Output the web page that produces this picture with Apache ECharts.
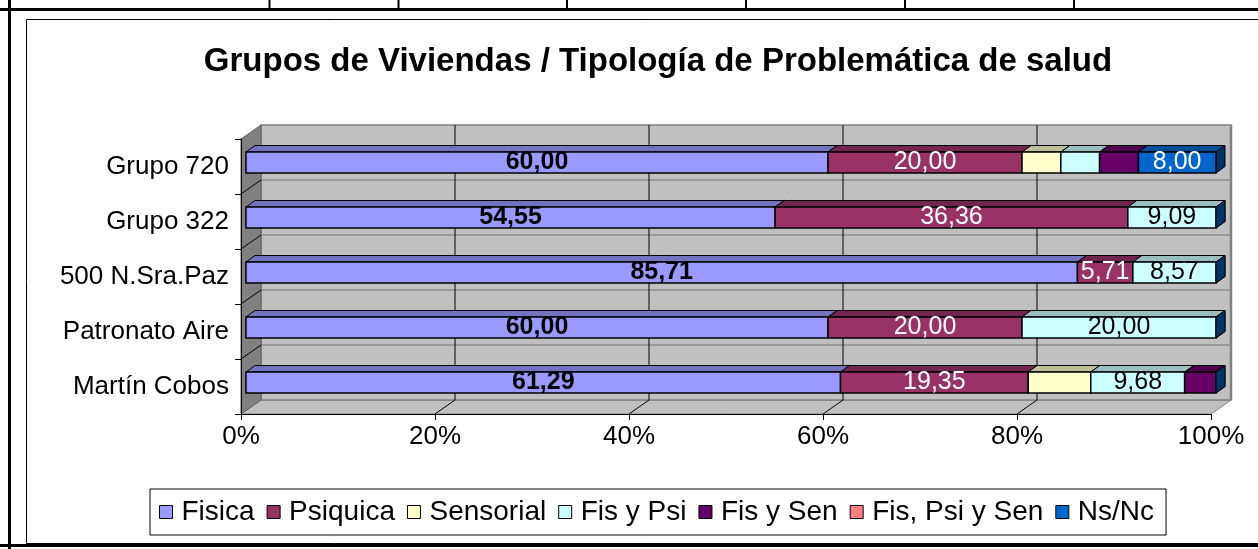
<!DOCTYPE html>
<html><head><meta charset="utf-8">
<script src="https://cdn.jsdelivr.net/npm/echarts@6/dist/echarts.min.js"></script>
<style>html,body{margin:0;padding:0;background:#fff}#c{width:1258px;height:549px}</style>
</head><body><div id="c"></div>
<script>
const categories = ['Martín Cobos', 'Patronato Aire', '500 N.Sra.Paz', 'Grupo 322', 'Grupo 720'];
const seriesNames = ['Fisica', 'Psiquica', 'Sensorial', 'Fis y Psi', 'Fis y Sen', 'Fis, Psi y Sen', 'Ns/Nc'];
const fisica    = [61.29, 60.00, 85.71, 54.55, 60.00];
const psiquica  = [19.35, 20.00,  5.71, 36.36, 20.00];
const sensorial = [ 6.45,  0,     0,     0,     4.00];
const fisYPsi   = [ 9.68, 20.00,  8.57,  9.09,  4.00];
const fisYSen   = [ 3.23,  0,     0,     0,     4.00];
const fisPsiSen = [ 0,     0,     0,     0,     0];
const nsNc      = [ 0,     0,     0,     0,     8.00];
const xTicks = [0, 20, 40, 60, 80, 100];
const title = 'Grupos de Viviendas / Tipología de Problemática de salud';

const values = [fisica, psiquica, sensorial, fisYPsi, fisYSen, fisPsiSen, nsNc];
const colors = ['#9999FF', '#993366', '#FFFFCC', '#CCFFFF', '#660066', '#FF8080', '#0066CC'];
const showLabel = [true, true, false, true, false, false, true];
const labelColor = ['#000', '#fff', '#000', '#000', '#fff', '#000', '#fff'];
const labelWeight = ['bold', 'normal', 'normal', 'normal', 'normal', 'normal', 'normal'];
const MIN_LABEL = 5;
const FONT = '"Liberation Sans", Arial, sans-serif';

function shade(hex, f) {
  const n = parseInt(hex.slice(1), 16);
  const r = Math.round(((n >> 16) & 255) * f), g = Math.round(((n >> 8) & 255) * f), b = Math.round((n & 255) * f);
  return 'rgb(' + r + ',' + g + ',' + b + ')';
}

// 100% stacking
const totals = categories.map((c, j) => values.reduce((s, arr) => s + arr[j], 0));
const stacked = values.map(() => []);
categories.forEach((c, j) => {
  let cum = 0;
  values.forEach((arr, i) => {
    const s = cum / totals[j] * 100;
    cum += arr[j];
    const e = cum / totals[j] * 100;
    stacked[i].push([j, s, e, arr[j]]);
  });
});

const WD = [20, -14];          // wall depth
const BF = [5, -4];            // bar front offset
const BD = [9, -6.5];          // bar depth
const BH = 21;                 // bar height

function wallRender(params, api) {
  const cs = params.coordSys;
  const x = cs.x, y = cs.y, w = cs.width, h = cs.height;
  const dx = WD[0], dy = WD[1];
  const ch = [];
  ch.push({ type: 'polygon', shape: { points: [[x, y + h], [x + dx, y + h + dy], [x + w + dx, y + h + dy], [x + w, y + h]] },
    style: { fill: '#C0C0C0', stroke: '#808080', lineWidth: 1 } });
  ch.push({ type: 'rect', shape: { x: x + dx, y: y + dy, width: w, height: h },
    style: { fill: '#C0C0C0', stroke: '#808080', lineWidth: 1.5 } });
  ch.push({ type: 'polygon', shape: { points: [[x, y], [x + dx, y + dy], [x + dx, y + h + dy], [x, y + h]] },
    style: { fill: '#808080', stroke: '#606060', lineWidth: 1 } });
  const band = h / categories.length;
  for (let k = 1; k < categories.length; k++) {
    const yy = y + k * band;
    ch.push({ type: 'line', shape: { x1: x + dx, y1: yy + dy, x2: x + w + dx, y2: yy + dy }, style: { stroke: '#707070', lineWidth: 1 } });
    ch.push({ type: 'line', shape: { x1: x, y1: yy, x2: x + dx, y2: yy + dy }, style: { stroke: '#000', lineWidth: 1 } });
  }
  xTicks.forEach(t => {
    if (t === 0 || t === 100) return;
    const p = api.coord([t, 0]);
    const xx = p[0];
    ch.push({ type: 'line', shape: { x1: xx + dx, y1: y + dy, x2: xx + dx, y2: y + h + dy }, style: { stroke: '#000', lineWidth: 1 } });
    ch.push({ type: 'line', shape: { x1: xx, y1: y + h, x2: xx + dx, y2: y + h + dy }, style: { stroke: '#000', lineWidth: 1 } });
  });
  ch.push({ type: 'line', shape: { x1: x + w + dx, y1: y + dy, x2: x + w + dx, y2: y + h + dy }, style: { stroke: '#808080', lineWidth: 2.5 } });
  return { type: 'group', children: ch };
}

function barRender(si) {
  return function (params, api) {
    const cat = api.value(0), s = api.value(1), e = api.value(2), v = api.value(3);
    const last = si === seriesNames.length - 1;
    if (v <= 0 && !last) return { type: 'group', children: [] };
    const a = api.coord([s, cat]), b = api.coord([e, cat]);
    const x0 = a[0] + BF[0], x1 = b[0] + BF[0], yc = a[1] + BF[1];
    const t = yc - BH / 2, bt = yc + BH / 2;
    const col = colors[si];
    const ch = [];
    ch.push({ type: 'polygon', shape: { points: [[x1, t], [x1 + BD[0], t + BD[1]], [x1 + BD[0], bt + BD[1]], [x1, bt]] },
      style: { fill: shade(col, 0.5), stroke: '#000', lineWidth: 1 } });
    if (v > 0) {
      ch.push({ type: 'polygon', shape: { points: [[x0, t], [x0 + BD[0], t + BD[1]], [x1 + BD[0], t + BD[1]], [x1, t]] },
        style: { fill: shade(col, 0.75), stroke: '#000', lineWidth: 1 } });
      ch.push({ type: 'rect', shape: { x: x0, y: t, width: x1 - x0, height: BH },
        style: { fill: col, stroke: '#000', lineWidth: 1.5 } });
      if (showLabel[si] && v >= MIN_LABEL) {
        ch.push({ type: 'text', style: { text: v.toFixed(2).replace('.', ','), x: (x0 + x1) / 2, y: yc,
          align: 'center', verticalAlign: 'middle', fill: labelColor[si],
          font: labelWeight[si] + ' 25px ' + FONT } });
      }
    }
    return { type: 'group', children: ch };
  };
}

const series = [{
  type: 'custom', name: '_walls', coordinateSystem: 'cartesian2d', z: 1, silent: true, clip: false,
  data: [[0, 0]], encode: { x: 1, y: 0 }, renderItem: wallRender
}];
seriesNames.forEach((n, i) => {
  series.push({
    type: 'custom', name: n, coordinateSystem: 'cartesian2d', z: 2, clip: false,
    itemStyle: { color: colors[i], borderColor: '#000', borderWidth: 1 },
    data: stacked[i], encode: { x: [1, 2], y: 0 }, renderItem: barRender(i)
  });
});

const chart = echarts.init(document.getElementById('c'), null, { renderer: 'canvas' });
chart.setOption({
  animation: false,
  backgroundColor: '#fff',
  textStyle: { fontFamily: FONT },
  title: { text: title, left: 658, top: 45, textAlign: 'center', padding: 0,
    textStyle: { fontSize: 33, fontWeight: 'bold', color: '#000', fontFamily: FONT } },
  grid: { left: 241, right: 47, top: 139, bottom: 135, containLabel: false },
  xAxis: { type: 'value', min: 0, max: 100, interval: 20, z: 3,
    axisLine: { show: true, lineStyle: { color: '#000', width: 1 } },
    axisTick: { show: true, length: 6, lineStyle: { color: '#000' } },
    splitLine: { show: false },
    axisLabel: { formatter: '{value}%', fontSize: 26, color: '#000', margin: 10, fontFamily: FONT } },
  yAxis: { type: 'category', data: categories, z: 3,
    axisLine: { show: true, lineStyle: { color: '#000', width: 1 } },
    axisTick: { show: true, length: 6, lineStyle: { color: '#000' } },
    splitLine: { show: false },
    axisLabel: { fontSize: 26, color: '#000', margin: 12, fontFamily: FONT } },
  legend: { data: seriesNames, left: 150, top: 489, orient: 'horizontal', icon: 'rect',
    itemWidth: 13, itemHeight: 13, itemGap: 12, borderColor: '#000', borderWidth: 1,
    padding: [8, 12, 8, 9], selectedMode: false,
    itemStyle: { borderColor: '#000', borderWidth: 1 },
    textStyle: { fontSize: 28, color: '#000', lineHeight: 30, padding: [0, 0, 0, 4], fontFamily: FONT } },
  graphic: [
    { type: 'rect', silent: true, z: 0, shape: { x: 26.5, y: 19.5, width: 1300, height: 524 }, style: { fill: null, stroke: '#000', lineWidth: 1 } },
    { type: 'rect', silent: true, shape: { x: 0, y: 8, width: 1258, height: 3 }, style: { fill: '#000' } },
    { type: 'rect', silent: true, shape: { x: 8, y: 0, width: 3, height: 549 }, style: { fill: '#000' } },
    { type: 'rect', silent: true, shape: { x: 0, y: 544, width: 1258, height: 3 }, style: { fill: '#000' } },
    { type: 'rect', silent: true, shape: { x: 268.5, y: 0, width: 2, height: 9 }, style: { fill: '#000' } },
    { type: 'rect', silent: true, shape: { x: 397.5, y: 0, width: 2, height: 9 }, style: { fill: '#000' } },
    { type: 'rect', silent: true, shape: { x: 566, y: 0, width: 2, height: 9 }, style: { fill: '#000' } },
    { type: 'rect', silent: true, shape: { x: 745, y: 0, width: 2, height: 9 }, style: { fill: '#000' } },
    { type: 'rect', silent: true, shape: { x: 904, y: 0, width: 2, height: 9 }, style: { fill: '#000' } },
    { type: 'rect', silent: true, shape: { x: 1073, y: 0, width: 2, height: 9 }, style: { fill: '#000' } }
  ],
  series: series
});
</script></body></html>
